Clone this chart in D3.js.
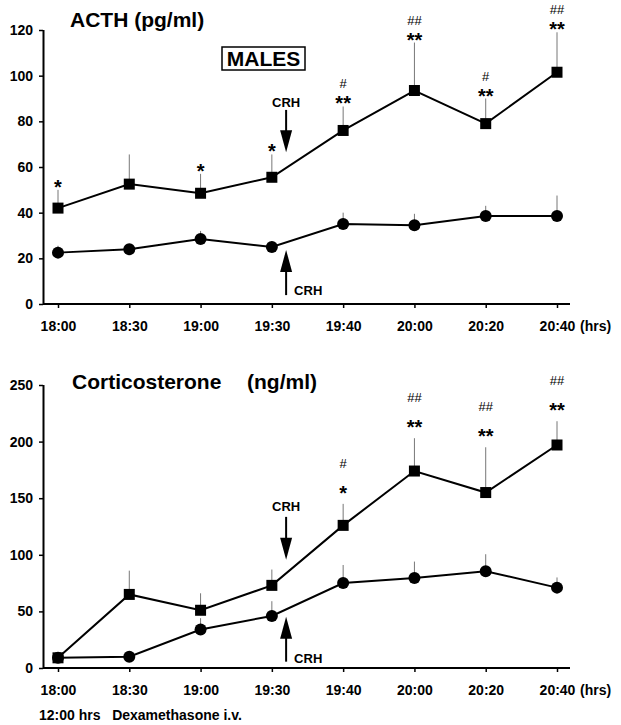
<!DOCTYPE html>
<html>
  <head>
    <meta charset="utf-8" />
    <style>
      body {
        margin: 0;
        background: #fff;
      }
      svg {
        font-family: "Liberation Sans", Arial, sans-serif;
        font-weight: bold;
      }
      .tick text {
        font-size: 14px;
        font-weight: bold;
        fill: #000;
      }
      .tick line {
        stroke: #000;
        stroke-width: 1.5;
      }
      .domain {
        display: none;
      }
      .series {
        fill: none;
        stroke: #000;
        stroke-width: 2;
      }
      .err {
        stroke: #777;
        stroke-width: 1;
      }
      .star {
        font-size: 20px;
      }
      .hash {
        font-size: 13px;
        font-weight: normal;
        fill: #000;
      }
      .crh {
        font-size: 13px;
      }
    </style>
  </head>

  <body>
    <svg width="621" height="725"></svg>

    <script src="https://d3js.org/d3.v7.min.js"></script>
    <script>
      // time points (equally spaced on the axis)
      let times = ["18:00", "18:30", "19:00", "19:30", "19:40", "20:00", "20:20", "20:40"];

      // ACTH (pg/ml) - squares / circles, mean and SEM
      let acthSq = [42, 52.5, 48.5, 55.5, 76, 93.5, 79, 101.5];
      let acthSqSem = [8, 13, 8.5, 10, 10.5, 21, 11, 17.5];
      let acthCi = [22.5, 24, 28.5, 25, 35, 34.5, 38.5, 38.5];
      let acthCiSem = [3, 0, 3.5, 2.5, 5, 5, 4.5, 9];
      let acthStars = ["*", "", "*", "*", "**", "**", "**", "**"];
      let acthHash = ["", "", "", "", "#", "##", "#", "##"];

      // Corticosterone (ng/ml)
      let cortSq = [9, 65, 51, 73, 126, 174, 155, 197];
      let cortSqSem = [0, 21, 15, 14, 19, 29, 40, 21];
      let cortCi = [9, 10, 34, 46, 75, 79.5, 85.5, 71];
      let cortCiSem = [0, 0, 10, 13, 16, 14.5, 15, 9];
      let cortStars = ["", "", "", "", "*", "**", "**", "**"];
      let cortHash = ["", "", "", "", "#", "##", "##", "##"];

      let acthTicks = [0, 20, 40, 60, 80, 100, 120];
      let cortTicks = [0, 50, 100, 150, 200, 250];

      let svg = d3.select("svg");

      let x = d3.scalePoint().domain(times).range([58, 557]);
      let crhX = x("19:30") + 0.2 * x.step();

      function panel(cfg) {
        let g = svg.append("g");
        let y = d3.scaleLinear().domain(cfg.domain).range([cfg.bottom, cfg.top]);

        // axes
        g.append("g")
          .attr("transform", "translate(43,0)")
          .call(d3.axisLeft(y).tickValues(cfg.ticks).tickSize(4).tickSizeOuter(0).tickPadding(6));
        g.append("line")
          .attr("x1", 43.5).attr("x2", 43.5)
          .attr("y1", cfg.top).attr("y2", cfg.bottom)
          .attr("stroke", "#000").attr("stroke-width", 2);

        g.append("g")
          .attr("transform", `translate(0,${cfg.bottom})`)
          .call(d3.axisBottom(x).tickSize(4).tickSizeOuter(0).tickPadding(13));
        g.append("line")
          .attr("x1", 43).attr("x2", 570)
          .attr("y1", cfg.bottom).attr("y2", cfg.bottom)
          .attr("stroke", "#000").attr("stroke-width", 2);

        g.append("text")
          .attr("x", 580).attr("y", cfg.bottom + 27)
          .attr("font-size", 14)
          .text("(hrs)");

        // error bars
        for (let s of cfg.series) {
          g.selectAll(null)
            .data(s.mean.map((m, i) => ({ t: times[i], m: m, e: s.sem[i] })).filter((d) => d.e > 0))
            .join("line")
            .attr("class", "err")
            .attr("x1", (d) => x(d.t)).attr("x2", (d) => x(d.t))
            .attr("y1", (d) => y(d.m)).attr("y2", (d) => y(d.m + d.e));
        }

        let line = d3.line().x((d, i) => x(times[i])).y((d) => y(d));

        for (let s of cfg.series) {
          g.append("path").attr("class", "series").attr("d", line(s.mean));
          if (s.shape == "circle") {
            g.selectAll(null)
              .data(s.mean)
              .join("circle")
              .attr("cx", (d, i) => x(times[i]))
              .attr("cy", (d) => y(d))
              .attr("r", 6);
          } else {
            g.selectAll(null)
              .data(s.mean)
              .join("rect")
              .attr("x", (d, i) => x(times[i]) - 5.5)
              .attr("y", (d) => y(d) - 5.5)
              .attr("width", 11)
              .attr("height", 11);
          }
        }

        // significance marks above the upper series
        let up = cfg.series[1];
        times.forEach((t, i) => {
          let barTop = y(up.mean[i] + up.sem[i]);
          if (cfg.stars[i]) {
            g.append("text")
              .attr("class", "star")
              .attr("x", x(t)).attr("y", barTop + cfg.starOff)
              .attr("text-anchor", "middle")
              .text(cfg.stars[i]);
          }
          if (cfg.hash[i]) {
            g.append("text")
              .attr("class", "hash")
              .attr("x", x(t)).attr("y", barTop + cfg.hashOff)
              .attr("text-anchor", "middle")
              .text(cfg.hash[i]);
          }
        });

        // CRH arrows
        let a = cfg.crh;
        g.append("text").attr("class", "crh")
          .attr("x", crhX).attr("y", y(a.downText))
          .attr("text-anchor", "middle").text("CRH");
        g.append("line")
          .attr("x1", crhX).attr("x2", crhX)
          .attr("y1", y(a.downStart)).attr("y2", y(a.downTip) - 15)
          .attr("stroke", "#000").attr("stroke-width", 2);
        g.append("path")
          .attr("d", `M${crhX - 6},${y(a.downTip) - 22}L${crhX + 6},${y(a.downTip) - 22}L${crhX},${y(a.downTip)}Z`);

        g.append("line")
          .attr("x1", crhX).attr("x2", crhX)
          .attr("y1", y(a.upEnd)).attr("y2", y(a.upTip) + 15)
          .attr("stroke", "#000").attr("stroke-width", 2);
        g.append("path")
          .attr("d", `M${crhX - 6},${y(a.upTip) + 22}L${crhX + 6},${y(a.upTip) + 22}L${crhX},${y(a.upTip)}Z`);
        g.append("text").attr("class", "crh")
          .attr("x", crhX + 8).attr("y", y(a.upText))
          .text("CRH");

        return g;
      }

      panel({
        domain: [0, 120], top: 30, bottom: 304, ticks: acthTicks,
        series: [
          { mean: acthCi, sem: acthCiSem, shape: "circle" },
          { mean: acthSq, sem: acthSqSem, shape: "square" },
        ],
        stars: acthStars, hash: acthHash, starOff: 4, hashOff: -18,
        crh: { downText: 86.3, downStart: 85, downTip: 66.5, upTip: 23.7, upEnd: 3.9, upText: 3.9 },
      });

      panel({
        domain: [0, 250], top: 385, bottom: 668, ticks: cortTicks,
        series: [
          { mean: cortCi, sem: cortCiSem, shape: "circle" },
          { mean: cortSq, sem: cortSqSem, shape: "square" },
        ],
        stars: cortStars, hash: cortHash, starOff: -4, hashOff: -36,
        crh: { downText: 138.8, downStart: 133.5, downTip: 95.6, upTip: 45.3, upEnd: 5.6, upText: 4.7 },
      });

      // titles
      svg.append("text").attr("x", 70).attr("y", 27).attr("font-size", 21).text("ACTH (pg/ml)");
      svg.append("text").attr("x", 72).attr("y", 389).attr("font-size", 21).text("Corticosterone");
      svg.append("text").attr("x", 247).attr("y", 389).attr("font-size", 21).text("(ng/ml)");

      svg.append("rect")
        .attr("x", 222).attr("y", 47).attr("width", 83).attr("height", 23)
        .attr("fill", "none").attr("stroke", "#000").attr("stroke-width", 1.5);
      svg.append("text").attr("x", 263.5).attr("y", 66).attr("font-size", 21)
        .attr("text-anchor", "middle").text("MALES");

      svg.append("text").attr("x", 39).attr("y", 720).attr("font-size", 14)
        .attr("xml:space", "preserve").text("12:00 hrs   Dexamethasone i.v.");
    </script>
  </body>
</html>
